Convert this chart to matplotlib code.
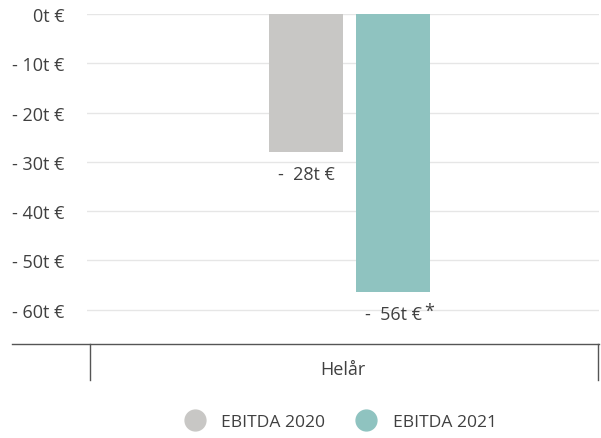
import matplotlib
matplotlib.use("Agg")
import matplotlib.pyplot as plt
from matplotlib.lines import Line2D

plt.rcParams['font.family'] = ['Open Sans', 'DejaVu Sans']

categories = ["Helår"]
series_names = ["EBITDA 2020", "EBITDA 2021"]
values = [-28, -56.4]
value_labels = ["-  28t €", "-  56t €"]
colors = ["#c8c7c5", "#8fc3c0"]
yticks = [0, -10, -20, -30, -40, -50, -60]
ytick_labels = ["0t €", "- 10t €", "- 20t €", "- 30t €", "- 40t €", "- 50t €", "- 60t €"]

W, H = 601, 439
FS = 13
fig = plt.figure(figsize=(W / 100, H / 100), dpi=100)
ax = fig.add_axes([87 / W, 1 - 345 / H, (599 - 87) / W, (345 - 15) / H])
ax.set_xlim(-0.5, 0.5)
ax.set_ylim(-67, 0)

txt = "#404040"
offsets = [-0.072, 0.098]
width = 0.145
for i, (v, c, lab) in enumerate(zip(values, colors, value_labels)):
    ax.bar(offsets[i], v, width=width, color=c, zorder=3)
    ax.annotate(lab, xy=(offsets[i], v), xytext=(0, -16), textcoords="offset points",
                ha="center", va="center", fontsize=FS, color=txt)
# asterisk superscript
ax.annotate("*", xy=(offsets[1], values[1]), xytext=(26, -14), textcoords="offset points",
            ha="center", va="center", fontsize=FS, color=txt)

ax.set_yticks(yticks)
ax.set_yticklabels(ytick_labels, fontsize=FS, color=txt)
ax.tick_params(axis="y", length=0, pad=16)
ax.set_xticks([])
ax.grid(axis="y", color="#e6e6e6", linewidth=1, zorder=0)
for s in ax.spines.values():
    s.set_visible(False)

# category axis line and boundaries
fig.add_artist(Line2D([12 / W, 599 / W], [1 - 345 / H] * 2, color="#555555", linewidth=1))
for px in (90, 598):
    fig.add_artist(Line2D([px / W] * 2, [1 - 345 / H, 1 - 381 / H], color="#555555", linewidth=1))
ax.text(0, -72.0, categories[0], ha="center", va="center", fontsize=FS, color=txt, clip_on=False)

# legend
handles = [Line2D([], [], marker="o", linestyle="none", markersize=15, markerfacecolor=c,
                  markeredgecolor=c) for c in colors]
fig.legend(handles, series_names, loc="center", bbox_to_anchor=(337 / W, 1 - 423 / H), ncol=2,
           frameon=False, fontsize=12.6, labelcolor=txt, handletextpad=0.5, columnspacing=1.35)

fig.savefig("out.png", dpi=100)
